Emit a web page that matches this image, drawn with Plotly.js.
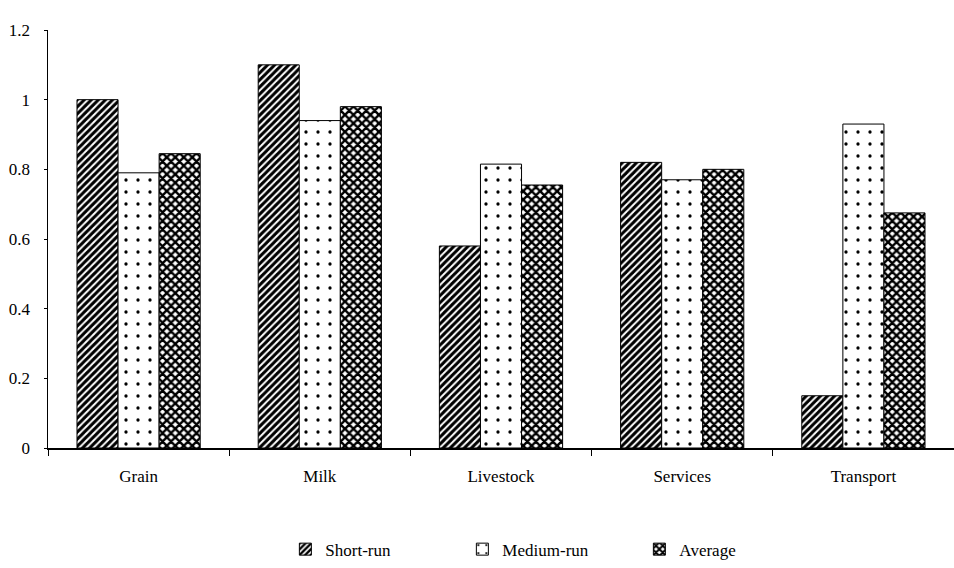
<!DOCTYPE html>
<html>
<head>
<meta charset="utf-8">
<script src="https://cdn.plot.ly/plotly-3.0.1.min.js"></script>
<style>html,body{margin:0;padding:0;background:#fff;}#chart{width:954px;height:568px;}</style>
</head>
<body>
<div id="chart"></div>
<script>
var categories = ["Grain", "Milk", "Livestock", "Services", "Transport"];
var shortRun  = [1.00, 1.10, 0.58, 0.82, 0.15];
var mediumRun = [0.79, 0.94, 0.815, 0.77, 0.93];
var average   = [0.845, 0.98, 0.755, 0.80, 0.675];
var seriesNames = ["Short-run", "Medium-run", "Average"];
var yTicks = [0, 0.2, 0.4, 0.6, 0.8, 1, 1.2];
var yTickText = ["0", "0.2", "0.4", "0.6", "0.8", "1", "1.2"];

var font = "Liberation Serif";
function bar(name, y, shape, size, solidity) {
  return {
    type: "bar", name: name, x: categories, y: y,
    marker: {
      color: "#ffffff",
      line: {color: "#000000", width: 1},
      pattern: {shape: shape, fgcolor: "#000000", bgcolor: "#ffffff", fgopacity: 1, size: size, solidity: solidity, fillmode: "overlay"}
    }
  };
}
var data = [
  bar(seriesNames[0], shortRun, "/", 5, 0.6),
  bar(seriesNames[1], mediumRun, ".", 12, 0.06),
  bar(seriesNames[2], average, "x", 6, 0.65)
];
var layout = {
  width: 954, height: 568,
  margin: {l: 48, r: 0, t: 30, b: 115},
  paper_bgcolor: "#ffffff", plot_bgcolor: "#ffffff",
  barmode: "group", bargap: 0.32, bargroupgap: 0,
  font: {family: font, size: 17, color: "#000000"},
  showlegend: true,
  legend: {orientation: "h", x: 0.262, xanchor: "left", y: -0.2, yanchor: "top",
           font: {family: font, size: 17, color: "#000000"}, entrywidth: 132, itemwidth: 30, traceorder: "normal"},
  xaxis: {
    range: [-0.5, 4.5], showline: true, linecolor: "#000000", linewidth: 1.5,
    ticks: "outside", tickson: "boundaries", ticklen: 6, tickcolor: "#000000",
    ticklabelstandoff: 12,
    showgrid: false, zeroline: false, fixedrange: true,
    tickfont: {family: font, size: 17, color: "#000000"}
  },
  yaxis: {
    range: [0, 1.2], showline: true, linecolor: "#000000", linewidth: 1.5,
    ticks: "outside", ticklen: 3, tickcolor: "#000000",
    ticklabelstandoff: 10,
    tickvals: yTicks, ticktext: yTickText,
    showgrid: false, zeroline: false, fixedrange: true,
    tickfont: {family: font, size: 17, color: "#000000"}
  }
};
Plotly.newPlot("chart", data, layout, {displayModeBar: false, staticPlot: true});
</script>
</body>
</html>
